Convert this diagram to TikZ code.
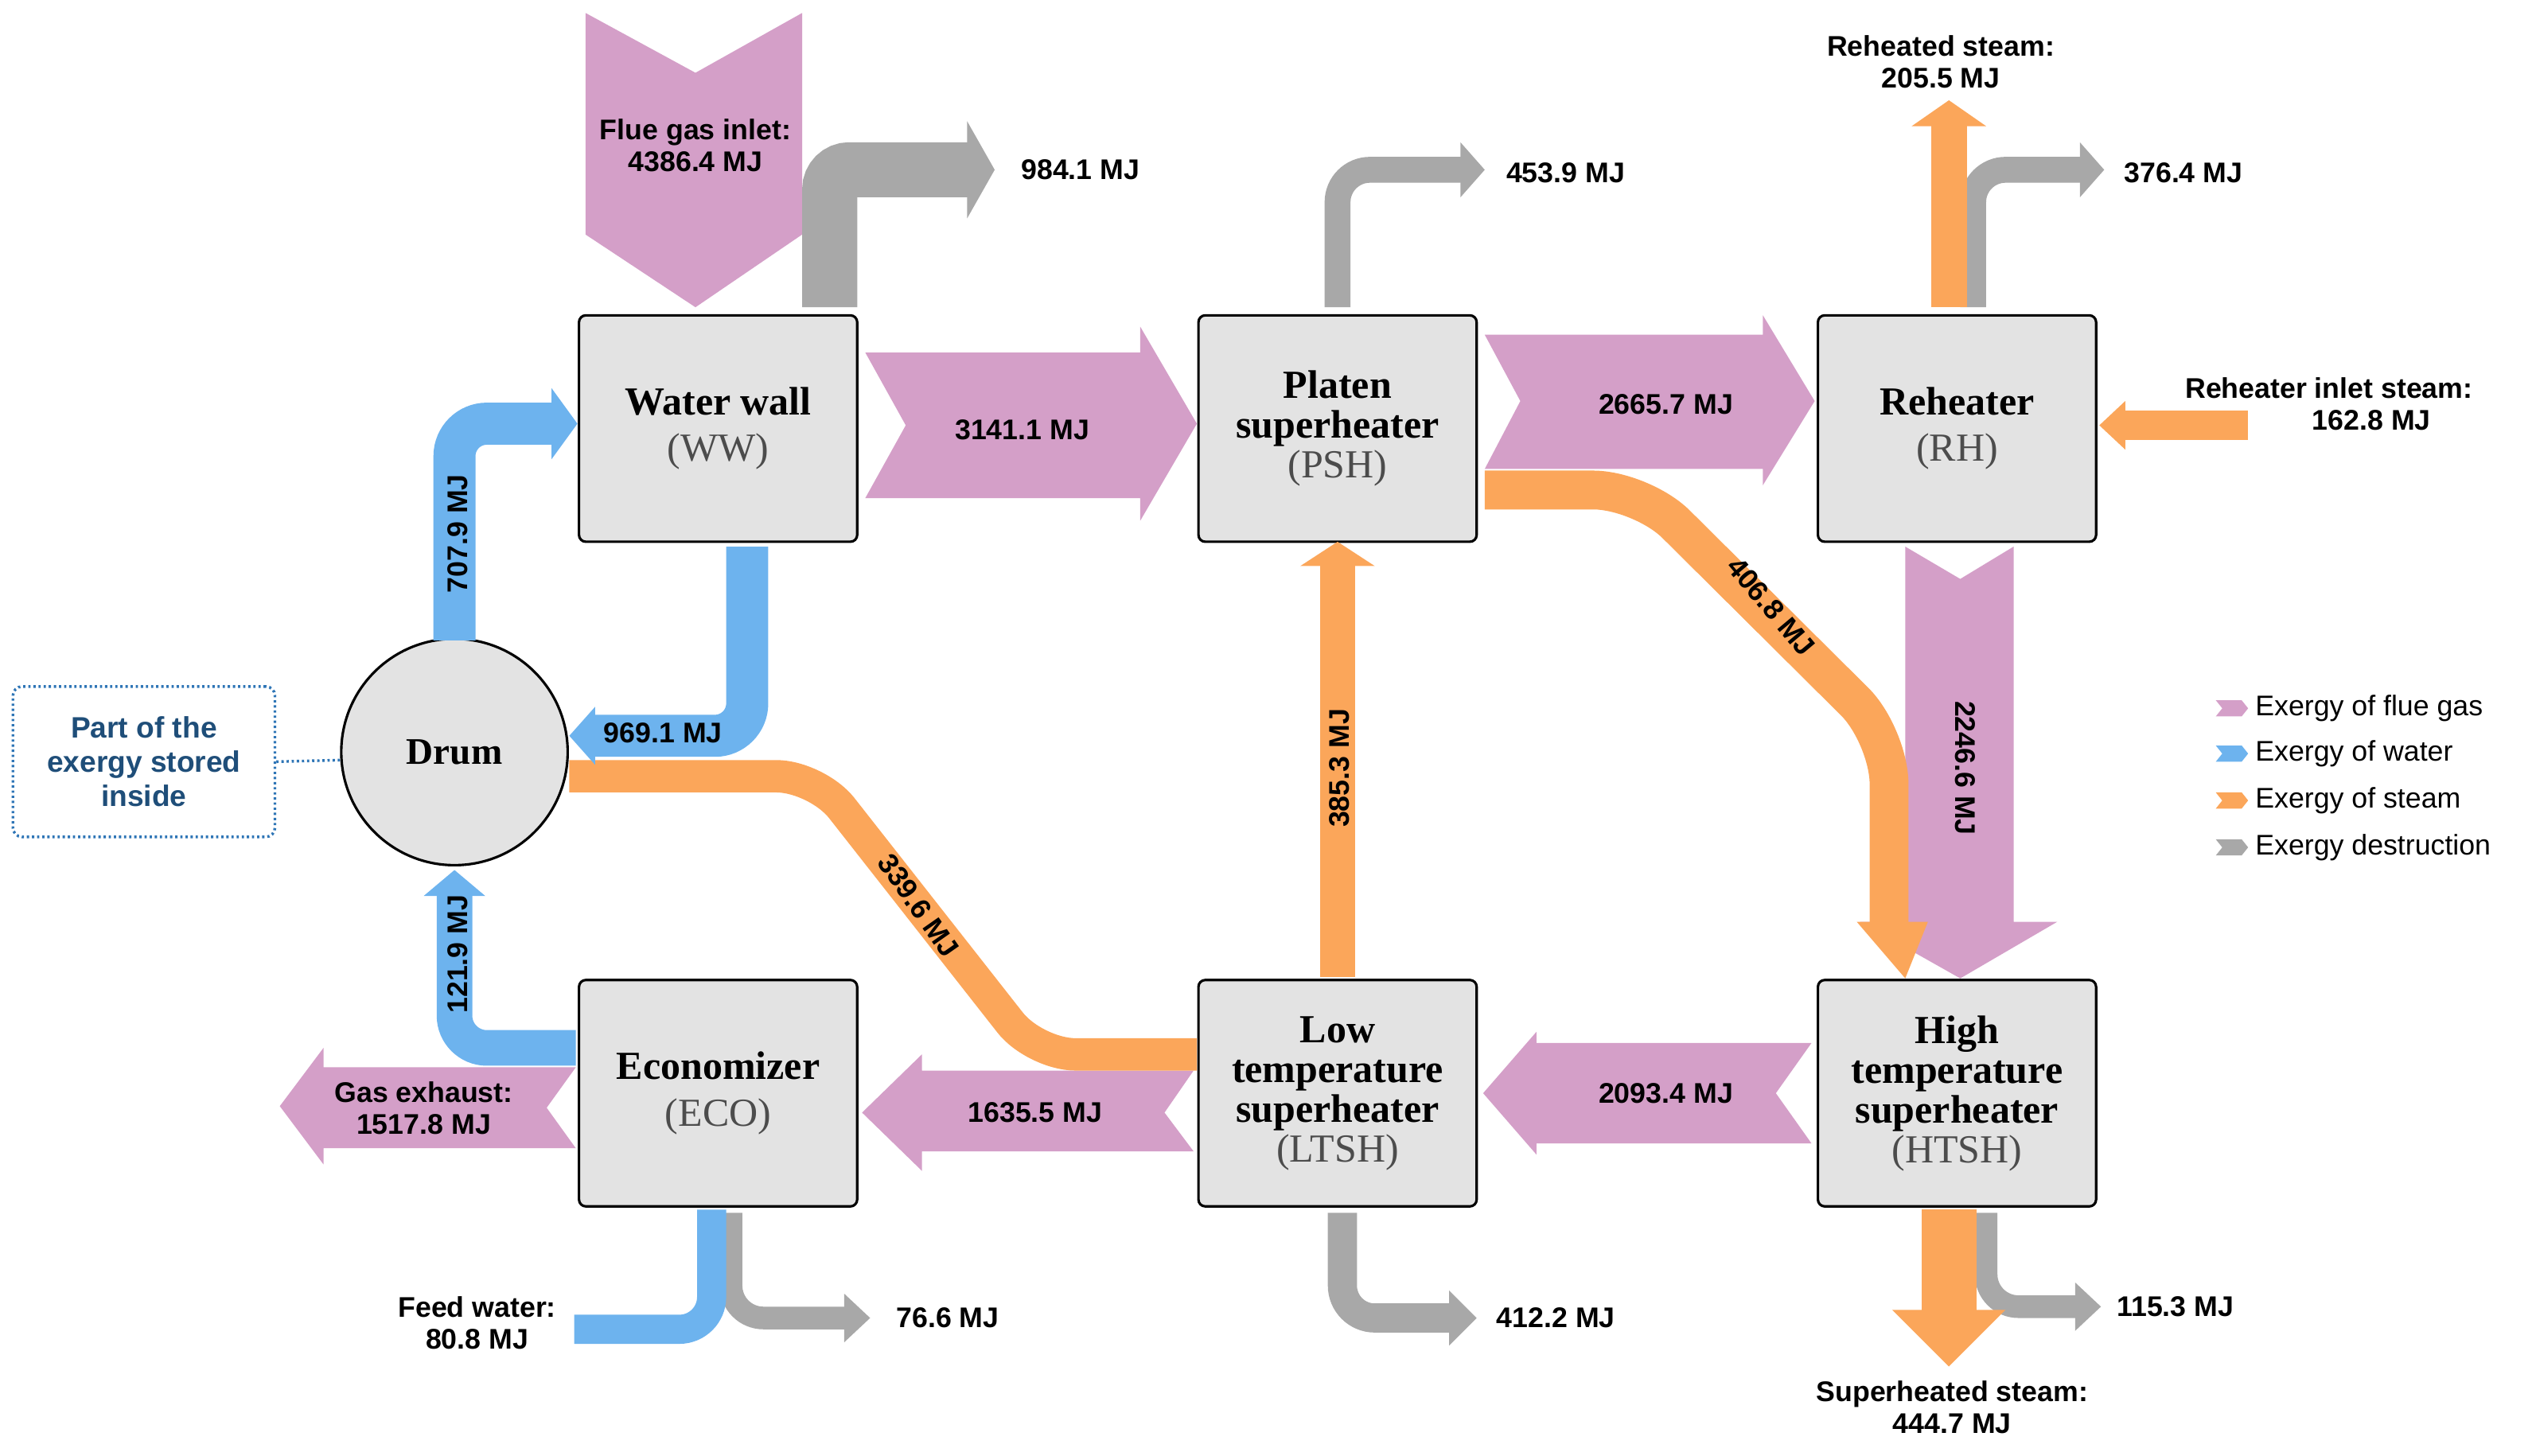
\documentclass[tikz,border=0pt]{standalone}
\usepackage{fontspec}
\setmainfont{Liberation Sans}
\newfontfamily\serifb{Liberation Serif}
\begin{document}
\definecolor{pk}{HTML}{D49FC8}
\definecolor{bl}{HTML}{6DB3EE}
\definecolor{og}{HTML}{FBA65A}
\definecolor{gy}{HTML}{A8A8A8}
\definecolor{nv}{HTML}{1F4E79}
\definecolor{dt}{HTML}{2E75B6}
\begin{tikzpicture}[x=0.05cm,y=-0.05cm,
  box/.style={draw=black,line width=2.2pt,fill=black!11,rounded corners=6pt,minimum width=172*0.05cm,minimum height=140*0.05cm,align=center,font=\serifb\fontsize{35}{35}\selectfont},
  lbl/.style={font=\bfseries\fontsize{25}{28}\selectfont,align=center},
  band/.style={line width=#1*0.05cm,rounded corners=20*0.05cm},
  leg/.style={font=\fontsize{25}{28}\selectfont,anchor=west}]
\useasboundingbox (0,0) rectangle (1568,900);
% boxes
\node[box] (ww) at (444,265) {\textbf{Water wall}\\[6pt]{\color{black!70}(WW)}};
\node[box] (psh) at (827,265) {\textbf{Platen}\\\textbf{superheater}\\{\color{black!70}(PSH)}};
\node[box] (rh) at (1210,265) {\textbf{Reheater}\\[6pt]{\color{black!70}(RH)}};
\node[box] (eco) at (444,676) {\textbf{Economizer}\\[6pt]{\color{black!70}(ECO)}};
\node[box] (ltsh) at (827,676) {\textbf{Low}\\\textbf{temperature}\\\textbf{superheater}\\{\color{black!70}(LTSH)}};
\node[box] (htsh) at (1210,676) {\textbf{High}\\\textbf{temperature}\\\textbf{superheater}\\{\color{black!70}(HTSH)}};
\draw[black,line width=2.2pt,fill=black!11] (281,465) circle (70);
\node[font=\serifb\bfseries\fontsize{33}{36}\selectfont] (drum) at (281,465) {Drum};
\coordinate (drumw) at (211,470);
% flue gas (pink)
\fill[pk] (362,8)--(430,45)--(496,8)--(496,145)--(430,190)--(362,145)--cycle;
\fill[pk] (535,218)--(705,218)--(705,202)--(740,262)--(705,322)--(705,308)--(535,308)--(560,263)--cycle;
\fill[pk] (918,207)--(1090,207)--(1090,195)--(1122,248)--(1090,300)--(1090,290)--(918,290)--(940,248)--cycle;
\fill[pk] (1178,338)--(1212,358)--(1245,338)--(1245,570)--(1272,570)--(1212,605)--(1150,570)--(1178,570)--cycle;
\fill[pk] (1120,645)--(950,645)--(950,638)--(917,676)--(950,714)--(950,707)--(1120,707)--(1098,676)--cycle;
\fill[pk] (738,662)--(570,662)--(570,652)--(533,688)--(570,724)--(570,712)--(738,712)--(720,688)--cycle;
\fill[pk] (356,660)--(200,660)--(200,648)--(173,684)--(200,720)--(200,710)--(356,710)--(338,685)--cycle;
% gray destruction
\draw[gy,line width=34*0.05cm,rounded corners=12*0.05cm] (513,190)--(513,105)--(600,105);
\fill[gy] (598,75)--(615,105)--(598,135)--cycle;
\draw[gy,band=16] (827,190)--(827,105)--(905,105);
\fill[gy] (903,88)--(918,105)--(903,122)--cycle;
\draw[gy,band=16] (1220,190)--(1220,105)--(1288,105);
\fill[gy] (1286,88)--(1301,105)--(1286,122)--cycle;
\draw[gy,band=14] (452,750)--(452,815)--(524,815);
\fill[gy] (522,800)--(538,815)--(522,830)--cycle;
\draw[gy,band=18] (830,750)--(830,815)--(898,815);
\fill[gy] (896,798)--(913,815)--(896,832)--cycle;
\draw[gy,band=14] (1228,750)--(1228,808)--(1285,808);
\fill[gy] (1283,793)--(1299,808)--(1283,823)--cycle;
% steam (orange)
\draw[og,line width=22*0.05cm] (1205,190)--(1205,76);
\fill[og] (1182,78)--(1205,62)--(1228,78)--cycle;
\draw[og,line width=18*0.05cm] (1390,263)--(1312,263);
\fill[og] (1314,248)--(1298,263)--(1314,278)--cycle;
\draw[og,band=24,rounded corners=30*0.05cm] (918,303)--(1015,303)--(1168,455)--(1168,572);
\fill[og] (1148,570)--(1192,570)--(1178,605)--cycle;
\draw[og,band=20,rounded corners=25*0.05cm] (352,480)--(505,480)--(640,652)--(740,652);
\draw[og,line width=22*0.05cm] (827,604)--(827,348);
\fill[og] (804,350)--(827,335)--(850,350)--cycle;
\draw[og,line width=34*0.05cm] (1205,748)--(1205,812);
\fill[og] (1170,810)--(1240,810)--(1205,845)--cycle;
% water (blue)
\draw[bl,band=26] (281,396)--(281,262)--(343,262);
\fill[bl] (341,240)--(357,262)--(341,284)--cycle;
\draw[bl,band=26] (462,338)--(462,455)--(366,455);
\fill[bl] (368,437)--(352,455)--(368,473)--cycle;
\draw[bl,band=22] (356,648)--(281,648)--(281,552);
\fill[bl] (262,554)--(281,538)--(300,554)--cycle;
\draw[bl,band=18] (355,822)--(440,822)--(440,748);
% labels
\node[lbl] at (430,90) {Flue gas inlet:\\4386.4 MJ};
\node[lbl] at (668,105) {984.1 MJ};
\node[lbl] at (632,266) {3141.1 MJ};
\node[lbl] at (968,107) {453.9 MJ};
\node[lbl] at (1030,250) {2665.7 MJ};
\node[lbl] at (1200,38) {Reheated steam:\\205.5 MJ};
\node[lbl] at (1350,107) {376.4 MJ};
\node[lbl] at (1440,250) {Reheater inlet steam:\\\hspace*{3em}162.8 MJ};
\node[lbl,rotate=-90] at (1215,475) {2246.6 MJ};
\node[lbl,rotate=-50] at (1095,375) {406.8 MJ};
\node[lbl,rotate=90] at (283,330) {707.9 MJ};
\node[lbl] at (410,453) {969.1 MJ};
\node[lbl,rotate=-55] at (568,560) {339.6 MJ};
\node[lbl,rotate=90] at (828,475) {385.3 MJ};
\node[lbl] at (1030,676) {2093.4 MJ};
\node[lbl] at (640,688) {1635.5 MJ};
\node[lbl] at (262,685) {Gas exhaust:\\1517.8 MJ};
\node[lbl,rotate=90] at (283,590) {121.9 MJ};
\node[lbl] at (295,818) {Feed water:\\80.8 MJ};
\node[lbl] at (586,815) {76.6 MJ};
\node[lbl] at (962,815) {412.2 MJ};
\node[lbl] at (1345,808) {115.3 MJ};
\node[lbl] at (1207,870) {Superheated steam:\\444.7 MJ};
% note
\node[draw=dt,line width=2.4pt,dash pattern=on 2pt off 2.5pt,rounded corners=8pt,minimum width=162*0.05cm,minimum height=93*0.05cm,align=center,text=nv,font=\bfseries\fontsize{26}{30}\selectfont] (note) at (89,471) {Part of the\\exergy stored\\inside};
\draw[dt,line width=2.4pt,dash pattern=on 2pt off 2.5pt] (note.east)--(drumw);
% legend
\fill[pk] (1370,433)--(1386,433)--(1390,438)--(1386,443)--(1370,443)--(1374,438)--cycle;
\fill[bl] (1370,461)--(1386,461)--(1390,466)--(1386,471)--(1370,471)--(1374,466)--cycle;
\fill[og] (1370,490)--(1386,490)--(1390,495)--(1386,500)--(1370,500)--(1374,495)--cycle;
\fill[gy] (1370,519)--(1386,519)--(1390,524)--(1386,529)--(1370,529)--(1374,524)--cycle;
\node[leg] at (1392,438) {Exergy of flue gas};
\node[leg] at (1392,466) {Exergy of water};
\node[leg] at (1392,495) {Exergy of steam};
\node[leg] at (1392,524) {Exergy destruction};
\end{tikzpicture}
\end{document}
